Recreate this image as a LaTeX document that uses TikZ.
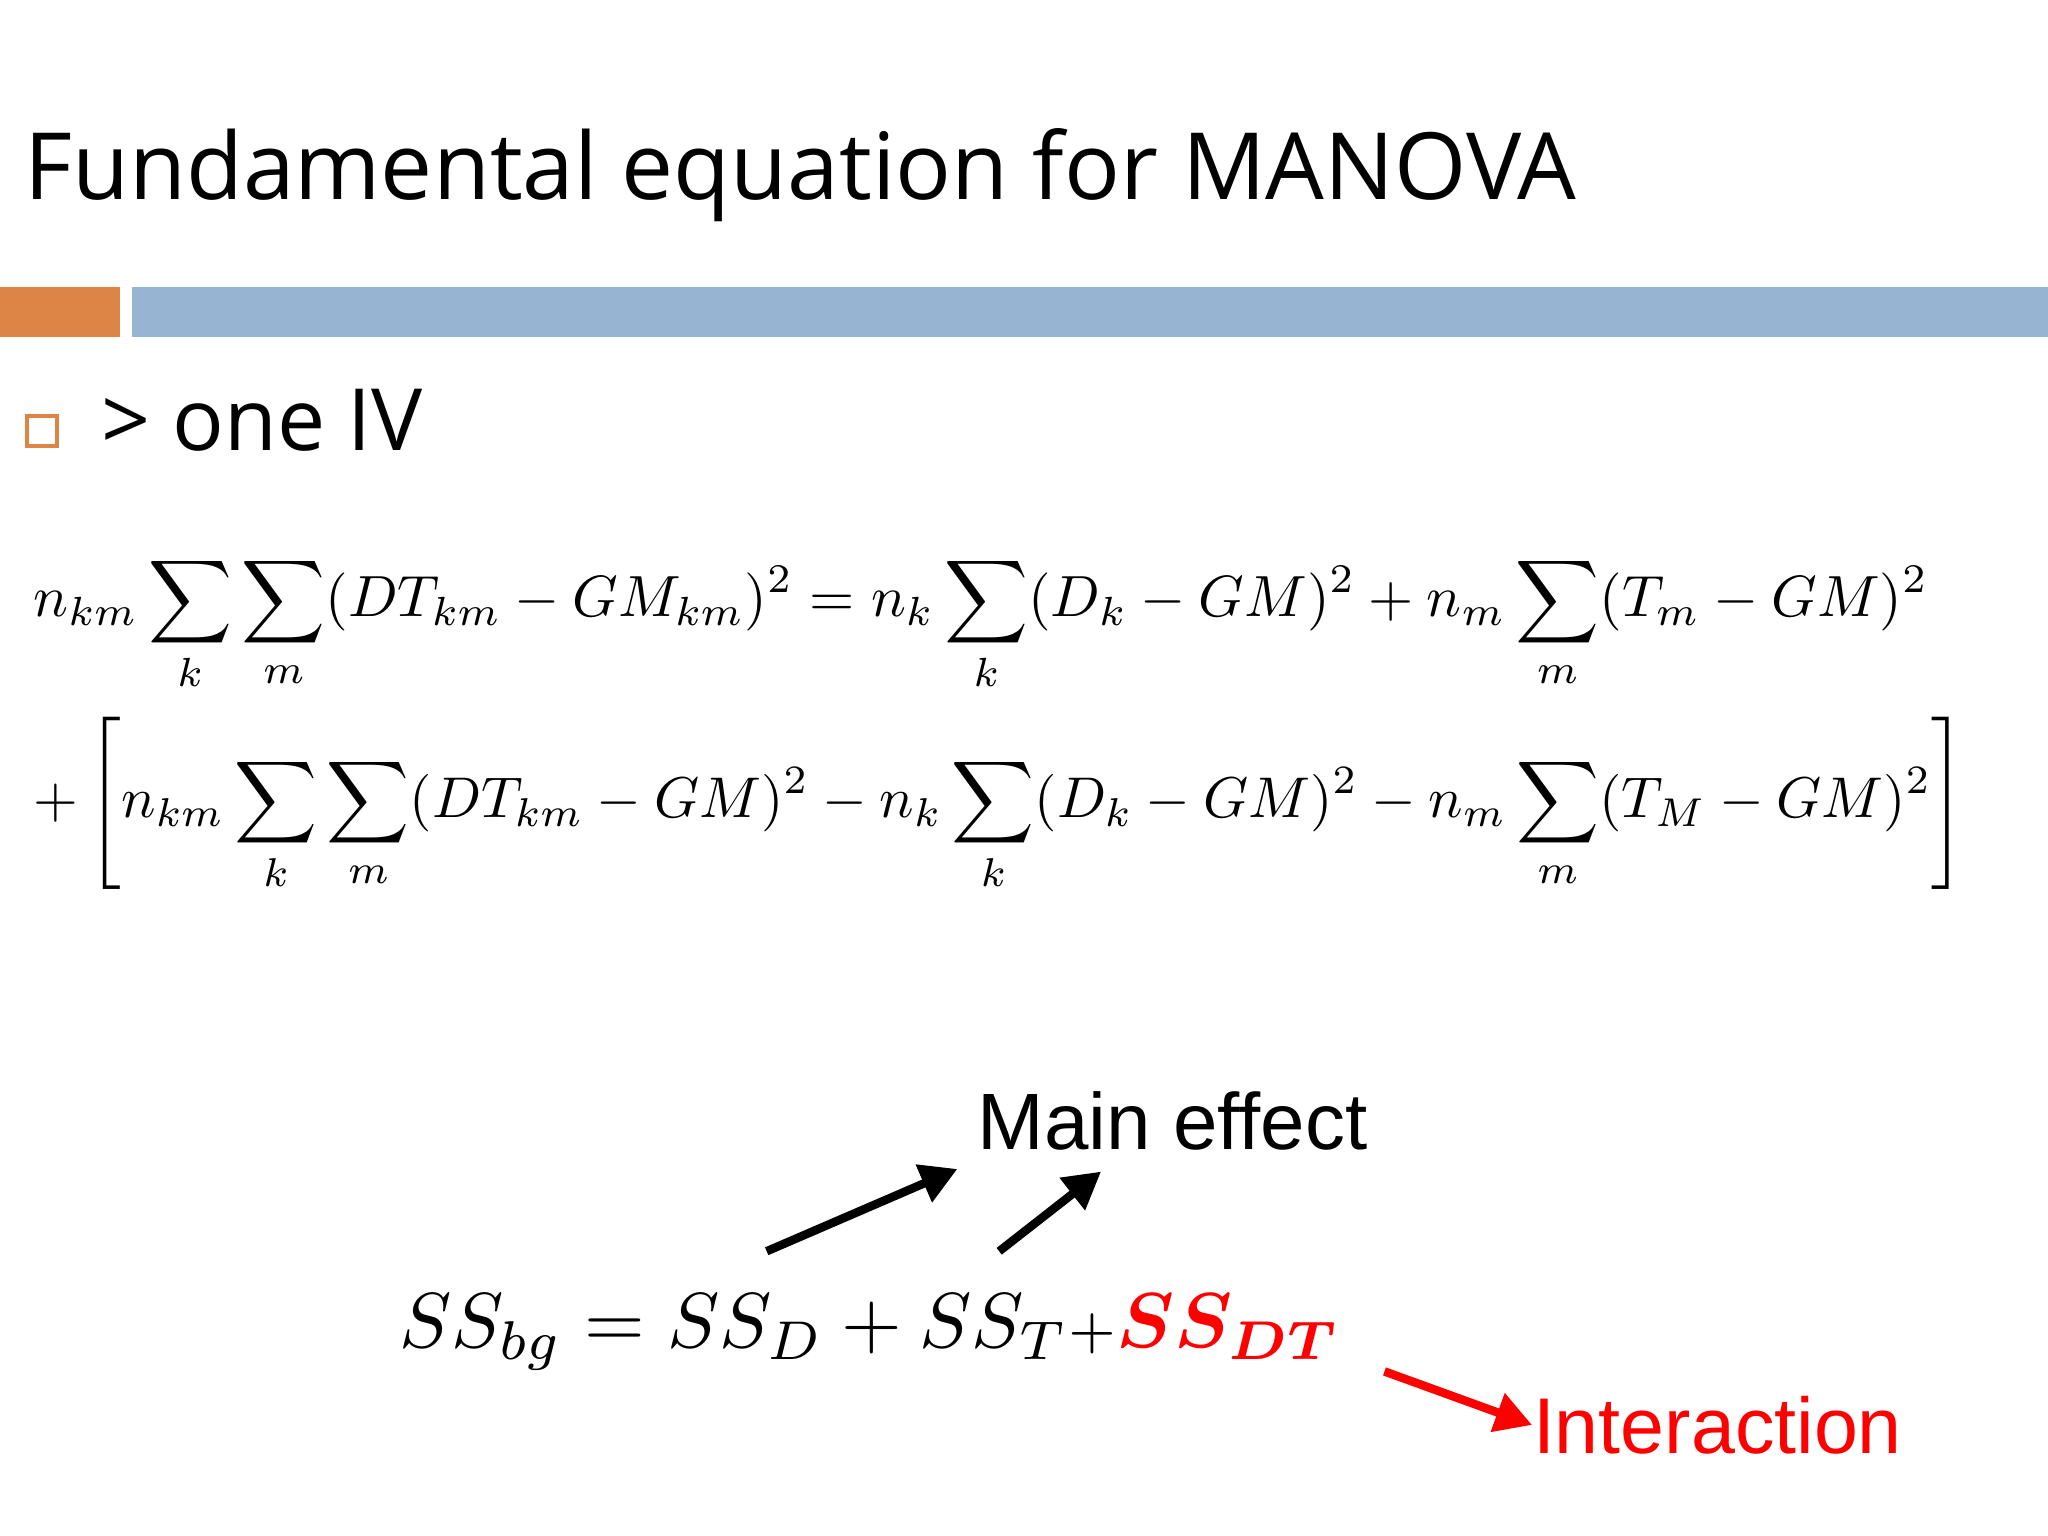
\documentclass[tikz,border=0pt]{standalone}
\usepackage{amsmath,bm}
\usepackage{fontspec}
\setsansfont{Open Sans}
\newfontfamily\arialf{Liberation Sans}
\usetikzlibrary{arrows.meta}
\definecolor{orng}{HTML}{DD8447}
\definecolor{blu}{HTML}{97B5D2}
\tikzset{arr/.style={line width=0.065cm,-{Triangle[length=0.28cm,width=0.3cm]}}}
\begin{document}
\begin{tikzpicture}[x=0.01cm,y=-0.01cm]
\useasboundingbox (0,0) rectangle (1568,1176);
\fill[orng] (0,220) rectangle (92,258);
\fill[blu] (101,220) rectangle (1568,258);
\node[anchor=west,inner sep=0] (title) at (18,134) {\sffamily\fontsize{20.2}{24}\selectfont Fundamental equation for MANOVA};
\node[draw=orng,line width=0.03cm,minimum size=0.23cm,inner sep=0] (bul) at (32,330) {};
\node[anchor=west,inner sep=0] (iv) at (77,322) {\sffamily\fontsize{18.7}{22}\selectfont > one IV};
\node[anchor=west,inner sep=0] (eq1) at (25,478) {\resizebox{14.5cm}{!}{$\displaystyle n_{km}\sum_k\sum_m (DT_{km}-GM_{km})^2 = n_k\sum_k (D_k-GM)^2 + n_m\sum_m (T_m-GM)^2$}};
\node[anchor=west,inner sep=0] (eq2) at (25,616) {\resizebox{14.78cm}{!}{$\displaystyle +\left[n_{km}\sum_k\sum_m (DT_{km}-GM)^2 - n_k\sum_k (D_k-GM)^2 - n_m\sum_m (T_M-GM)^2\right]$}};
\node[inner sep=0] (ss) at (666,1020) {\resizebox{7.2cm}{!}{$SS_{bg}=SS_D+SS_T{\scriptstyle+}\textcolor{red}{\bm{SS}_{\bm{DT}}}$}};
\node[anchor=west,inner sep=0] (main) at (748,858) {\arialf\fontsize{17.4}{21}\selectfont Main effect};
\node[anchor=west,inner sep=0] (inter) at (1173,1091) {\arialf\fontsize{17.2}{21}\selectfont\color{red} Interaction};
\coordinate (a1) at (587,958); \coordinate (a2) at (765,958); \coordinate (a3) at (1060,1050);
\draw[arr] (a1) -- (733,895);
\draw[arr] (a2) -- (843,897);
\draw[arr,red] (a3) -- (inter.west);
\end{tikzpicture}
\end{document}
